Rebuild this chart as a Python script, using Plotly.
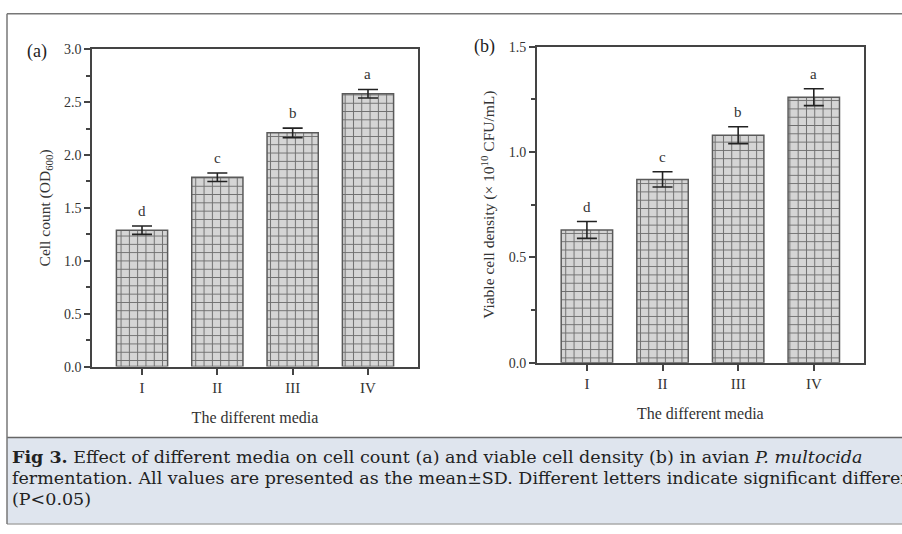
import plotly.graph_objects as go

# ---------------- data ----------------
media = ["I", "II", "III", "IV"]
cell_count = [1.29, 1.79, 2.21, 2.58]
cell_count_sd = [0.04, 0.04, 0.045, 0.04]
cell_count_letters = ["d", "c", "b", "a"]

viable_density = [0.63, 0.87, 1.08, 1.26]
viable_density_sd = [0.04, 0.036, 0.04, 0.04]
viable_letters = ["d", "c", "b", "a"]

W, H = 902, 534

def px_x(x):
    return x / W

def px_y(y):
    return 1 - y / H

SERIF = "Liberation Serif, Times New Roman, serif"
AX = "#444444"
TXT = "#333333"

pattern = dict(shape="+", size=8.3, solidity=0.22,
               fgcolor="#6e6e6e", bgcolor="#d5d5d5", fillmode="replace")

fig = go.Figure()

for vals, sd, xa, ya in [(cell_count, cell_count_sd, "x", "y"),
                          (viable_density, viable_density_sd, "x2", "y2")]:
    fig.add_trace(go.Bar(
        x=media, y=vals, xaxis=xa, yaxis=ya, width=0.68,
        marker=dict(color="#d5d5d5", pattern=pattern,
                    line=dict(color="#5a5a5a", width=1.5)),
        error_y=dict(type="data", array=sd, visible=True,
                     color="#222222", thickness=1.6, width=10),
        showlegend=False, hoverinfo="skip",
    ))

xcommon = dict(type="category", range=[-0.664, 3.664], showline=True, mirror=True,
               linecolor=AX, linewidth=1.5, ticks="outside", ticklen=7,
               tickwidth=1.5, tickcolor=AX, showgrid=False, zeroline=False,
               tickfont=dict(family=SERIF, size=15, color=TXT),
               title=dict(text="The different media", standoff=16,
                          font=dict(family=SERIF, size=16, color=TXT)))

ycommon = dict(showline=True, mirror=True, linecolor=AX, linewidth=1.5,
               ticks="outside", ticklen=6, tickwidth=1.5, tickcolor=AX,
               showgrid=False, zeroline=False, tickformat=".1f",
               tickfont=dict(family=SERIF, size=14, color=TXT),
               minor=dict(ticks="outside", ticklen=4, tickwidth=1.5,
                          tickcolor=AX, showgrid=False))

fig.update_layout(
    width=W, height=H, margin=dict(l=0, r=0, t=0, b=0),
    paper_bgcolor="white", plot_bgcolor="white", bargap=0.3,
    xaxis=dict(xcommon, domain=[px_x(92), px_x(418)], anchor="y"),
    yaxis=dict(ycommon, domain=[px_y(370), px_y(43.5)], range=[0, 3.0], dtick=0.5,
               minor=dict(ycommon["minor"], dtick=0.25), anchor="x",
               title=dict(text="Cell count (OD<sub>600</sub>)", standoff=10,
                          font=dict(family=SERIF, size=15.5, color=TXT))),
    xaxis2=dict(xcommon, domain=[px_x(536.7), px_x(864)], anchor="y2"),
    yaxis2=dict(ycommon, domain=[px_y(366), px_y(40.8)], range=[0, 1.5], dtick=0.5,
                minor=dict(ycommon["minor"], dtick=0.25), anchor="x2",
                title=dict(text="Viable cell density (\u00d7 10<sup>10</sup> CFU/mL)", standoff=10,
                           font=dict(family=SERIF, size=15.5, color=TXT))),
)

annotations = []
# significance letters
for vals, sd, letters, xr, yr in [(cell_count, cell_count_sd, cell_count_letters, "x", "y"),
                                  (viable_density, viable_density_sd, viable_letters, "x2", "y2")]:
    for m, v, s, l in zip(media, vals, sd, letters):
        annotations.append(dict(x=m, y=v + s, xref=xr, yref=yr, text=l, showarrow=False,
                                yanchor="bottom", yshift=5,
                                font=dict(family=SERIF, size=15, color=TXT)))

# panel labels
annotations.append(dict(x=px_x(37), y=px_y(46), xref="paper", yref="paper", text="(a)",
                        xanchor="center", yanchor="middle",
                        showarrow=False, font=dict(family=SERIF, size=18, color="#222")))
annotations.append(dict(x=px_x(484), y=px_y(41), xref="paper", yref="paper", text="(b)",
                        xanchor="center", yanchor="middle",
                        showarrow=False, font=dict(family=SERIF, size=18, color="#222")))

# caption
CAP = "DejaVu Serif, serif"
cap_lines = [
    "<b>Fig 3.</b> Effect of different media on cell count (a) and viable cell density (b) in avian <i>P. multocida</i>",
    "fermentation. All values are presented as the mean\u00b1SD. Different letters indicate significant differences",
    "(P<0.05)",
]
for i, (line, yc) in enumerate(zip(cap_lines, [463, 485, 506])):
    annotations.append(dict(x=px_x(10), y=px_y(yc), xref="paper", yref="paper", text=line,
                            xanchor="left", yanchor="middle", showarrow=False, align="left",
                            font=dict(family=CAP, size=17.5, color="#222")))

fig.update_layout(annotations=annotations)

# outer frame and caption box
shapes = [
    dict(type="rect", xref="paper", yref="paper", x0=px_x(7), x1=px_x(903), y0=px_y(532), y1=px_y(443),
         fillcolor="#dfe5ee", line=dict(width=0), layer="below"),
    dict(type="line", xref="paper", yref="paper", x0=px_x(7), x1=px_x(903), y0=px_y(443), y1=px_y(443),
         line=dict(color="#666", width=1.5)),
    dict(type="line", xref="paper", yref="paper", x0=px_x(7), x1=px_x(903), y0=px_y(532), y1=px_y(532),
         line=dict(color="#aaa", width=1.5)),
    dict(type="line", xref="paper", yref="paper", x0=px_x(7), x1=px_x(903), y0=px_y(7), y1=px_y(7),
         line=dict(color="#777", width=1.5)),
    dict(type="line", xref="paper", yref="paper", x0=px_x(7), x1=px_x(7), y0=px_y(7), y1=px_y(532),
         line=dict(color="#777", width=1.5)),
]
fig.update_layout(shapes=shapes)

fig.write_html("out.html")
